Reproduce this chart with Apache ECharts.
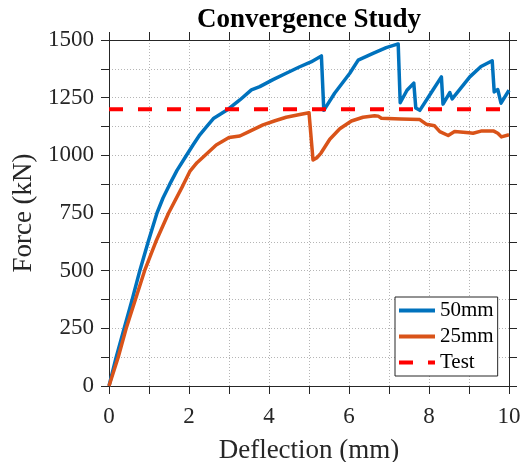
<!DOCTYPE html>
<html>
<head>
<meta charset="utf-8">
<script src="https://cdn.jsdelivr.net/npm/echarts@6/dist/echarts.min.js"></script>
<style>html,body{margin:0;padding:0;background:#fff}#c{width:527px;height:462px}</style>
</head>
<body>
<div id="c"></div>
<script>
// ---- data ----
const titleText = 'Convergence Study';
const xName = 'Deflection (mm)';
const yName = 'Force (kN)';
const seriesNames = ['50mm', '25mm', 'Test'];

const defl50 = [0, 0.18, 0.38, 0.58, 0.77, 0.98, 1.2, 1.35, 1.52, 1.7, 1.93, 2.1, 2.27, 2.43, 2.62, 2.8, 2.98, 3.27, 3.56, 3.77, 4.1, 4.43, 4.77, 5.05, 5.31, 5.37, 5.64, 6.02, 6.23, 6.6, 6.93, 7.23, 7.28, 7.45, 7.62, 7.67, 7.77, 8.05, 8.31, 8.35, 8.52, 8.58, 9.02, 9.3, 9.58, 9.63, 9.72, 9.8, 10];
const force50 = [0, 125, 250, 375, 500, 625, 750, 815, 875, 935, 998, 1045, 1089, 1122, 1161, 1180, 1200, 1240, 1284, 1298, 1328, 1356, 1384, 1405, 1431, 1195, 1269, 1356, 1413, 1442, 1467, 1483, 1228, 1282, 1313, 1205, 1195, 1270, 1340, 1222, 1272, 1245, 1340, 1385, 1410, 1275, 1285, 1226, 1282];

const defl25 = [0, 0.23, 0.43, 0.66, 0.89, 1.17, 1.49, 1.85, 2.02, 2.2, 2.39, 2.68, 3.0, 3.27, 3.5, 3.85, 4.15, 4.43, 4.77, 5.0, 5.1, 5.2, 5.3, 5.52, 5.77, 6.06, 6.35, 6.64, 6.73, 6.81, 7.3, 7.77, 7.93, 8.14, 8.27, 8.48, 8.64, 9.0, 9.1, 9.3, 9.52, 9.62, 9.72, 9.81, 10];
const force25 = [0, 125, 250, 375, 500, 625, 750, 870, 930, 968, 998, 1045, 1077, 1084, 1103, 1132, 1150, 1165, 1177, 1185, 980, 990, 1010, 1070, 1115, 1149, 1165, 1172, 1170, 1161, 1158, 1155, 1135, 1128, 1103, 1086, 1103, 1098, 1096, 1105, 1106, 1105, 1096, 1080, 1089];

const testDefl = [0, 10];
const testForce = [1200, 1200];

const xTicks = [0, 2, 4, 6, 8, 10];
const yTicks = [0, 250, 500, 750, 1000, 1250, 1500];

// ---- chart ----
const FONT = "'Liberation Serif', 'Times New Roman', serif";
const AX = '#262626';
const pairs = (xs, ys) => xs.map((x, i) => [x, ys[i]]);

const chart = echarts.init(document.getElementById('c'), null, {renderer: 'canvas'});

const baseX = {
  type: 'value', min: 0, max: 10, interval: 1,
  axisLine: {show: true, onZero: false, lineStyle: {color: AX, width: 1}},
  axisTick: {show: true, inside: false, length: 8, lineStyle: {color: AX, width: 1}},
  splitLine: {show: false}
};
const baseY = {
  type: 'value', min: 0, max: 1500, interval: 125,
  axisLine: {show: true, onZero: false, lineStyle: {color: AX, width: 1}},
  axisTick: {show: true, inside: false, length: 8, lineStyle: {color: AX, width: 1}},
  splitLine: {show: false}
};

chart.setOption({
  animation: false,
  backgroundColor: '#ffffff',
  graphic: [{
    type: 'text', x: 309, y: 7, z: 10,
    style: {text: titleText, fontFamily: FONT, fontSize: 27, fontWeight: 'bold', fill: '#000',
            align: 'center', verticalAlign: 'top', textAlign: 'center', textVerticalAlign: 'top'}
  }],
  grid: {left: 109, right: 18, top: 40, bottom: 76, containLabel: false, outerBoundsMode: 'none'},
  xAxis: [
    Object.assign({}, baseX, {
      position: 'bottom',
      name: xName, nameLocation: 'middle', nameGap: 51,
      nameTextStyle: {fontFamily: FONT, fontSize: 27, color: AX},
      axisLabel: {show: true, margin: 19, fontFamily: FONT, fontSize: 23, color: AX,
        formatter: v => (xTicks.indexOf(v) >= 0 ? String(v) : '')},
      splitLine: {show: true, lineStyle: {type: [1, 2], color: '#b5b5b5', width: 1}}
    }),
    Object.assign({}, baseX, {position: 'top', axisLabel: {show: false}})
  ],
  yAxis: [
    Object.assign({}, baseY, {
      position: 'left',
      name: yName, nameLocation: 'middle', nameGap: 62,
      nameTextStyle: {fontFamily: FONT, fontSize: 27, color: AX},
      axisLabel: {show: true, margin: 15, fontFamily: FONT, fontSize: 23, color: AX,
        formatter: v => (yTicks.indexOf(v) >= 0 ? String(v) : '')},
      splitLine: {show: true, lineStyle: {type: [1, 2], color: '#b5b5b5', width: 1}}
    }),
    Object.assign({}, baseY, {position: 'right', axisLabel: {show: false}})
  ],
  legend: {
    orient: 'vertical', left: 395, top: 297,
    padding: [3, 4, 3, 4], itemGap: 5,
    itemWidth: 36, itemHeight: 4,
    borderColor: AX, borderWidth: 1, backgroundColor: '#fff',
    textStyle: {fontFamily: FONT, fontSize: 21, color: '#000'},
    data: [
      {name: seriesNames[0], icon: 'rect'},
      {name: seriesNames[1], icon: 'rect'},
      {name: seriesNames[2], icon: 'path://M0,0H14V4H0Z M29,0H36V4H29Z'}
    ]
  },
  series: [
    {name: seriesNames[0], type: 'line', xAxisIndex: 0, yAxisIndex: 0, data: pairs(defl50, force50),
     showSymbol: false, symbol: 'none', color: '#0072BD',
     itemStyle: {color: '#0072BD', borderWidth: 0},
     lineStyle: {color: '#0072BD', width: 3.5, join: 'round'}},
    {name: seriesNames[1], type: 'line', xAxisIndex: 0, yAxisIndex: 0, data: pairs(defl25, force25),
     showSymbol: false, symbol: 'none', color: '#D95319',
     itemStyle: {color: '#D95319', borderWidth: 0},
     lineStyle: {color: '#D95319', width: 3.5, join: 'round'}},
    {name: seriesNames[2], type: 'line', xAxisIndex: 0, yAxisIndex: 0, data: pairs(testDefl, testForce),
     showSymbol: false, symbol: 'none', color: '#FF0000',
     itemStyle: {color: '#FF0000', borderWidth: 0},
     lineStyle: {color: '#FF0000', width: 4, type: [14, 15]}}
  ]
});
</script>
</body>
</html>
